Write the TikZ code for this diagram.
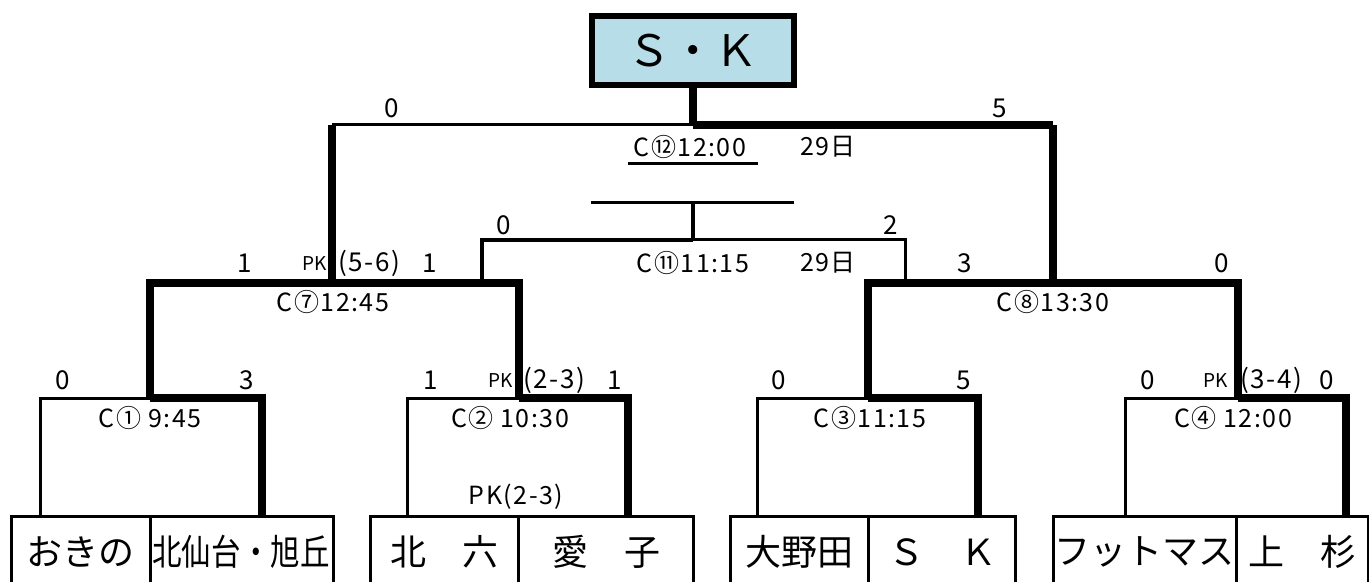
\documentclass[tikz,border=0pt]{standalone}
\usepackage{fontspec}
\setmainfont{Noto Sans CJK JP}
\newfontfamily\labelfont[LetterSpace=6]{Noto Sans CJK JP}
\definecolor{skblue}{RGB}{183,222,232}

\begin{document}
\begin{tikzpicture}[x=0.5pt, y=-0.5pt,
	lose/.style={line width=1.5pt},
	mid/.style={line width=2.2pt},
	win/.style={line width=3.6pt},
	score/.style={font=\labelfont\fontsize{13}{14}\selectfont, inner sep=0pt},
	game/.style={font=\labelfont\fontsize{12.5}{14}\selectfont, inner sep=0pt},
	pk/.style={font=\fontsize{9.5}{10}\selectfont, inner sep=0pt},
	team/.style={font=\fontsize{18}{20}\selectfont, inner sep=0pt}]

	\useasboundingbox (0,0) rectangle (1369,582);

	% champion
	\node[draw, fill=skblue, line width=2.6pt, minimum width=101pt, minimum height=34.5pt,
		font=\fontsize{21.7}{24}\selectfont] (champ) at (693,50.5) {Ｓ・Ｋ};
	\coordinate (final) at (693,125);
	\draw[win] (champ.south)--(final);

	% final C12
	\draw[lose] (332,125)--(final);
	\draw[win] (final)--(1053,125);
	\draw[win] (332,125)--(332,283);
	\draw[win] (1053,125)--(1053,283);
	\node[score] (s12a) at (392,108) {0};
	\node[score] (s12b) at (1000,108) {5};
	\node[game] (g12) at (690,147) {C⑫12:00};
	\node[game] (d12) at (828,147) {29日};
	\draw[lose] (628,164)--(758,164);

	% C11
	\draw[lose] (591,203)--(794,203);
	\coordinate (mid11) at (693,240);
	\draw[mid] (693,203)--(mid11);
	\draw[mid] (482,283)--(482,240)--(mid11);
	\draw[lose] (mid11)--(905,240)--(905,283);
	\node[score] (s11a) at (504,225) {0};
	\node[score] (s11b) at (891,225) {2};
	\node[game] (g11) at (693,263) {C⑪11:15};
	\node[game] (d11) at (828,263) {29日};

	% C7
	\draw[win] (150,398)--(150,283)--(519,283)--(519,398);
	\node[score] (s7a) at (245,263) {1};
	\node[pk] (pk7) at (315,264) {PK};
	\node[score] (p7) at (369,263) {(5-6)};
	\node[score] (s7b) at (430,263) {1};
	\node[game] (g7) at (333,302) {C⑦12:45};

	% C8
	\draw[win] (868,398)--(868,283)--(1238,283)--(1238,398);
	\node[score] (s8a) at (965,263) {3};
	\node[score] (s8b) at (1222,263) {0};
	\node[game] (g8) at (1053,302) {C⑧13:30};

	% C1
	\draw[lose] (40,516)--(40,398)--(150,398);
	\draw[win] (150,398)--(262,398)--(262,516);
	\node[score] (s1a) at (63,380) {0};
	\node[score] (s1b) at (247,380) {3};
	\node[game] (g1) at (150,418) {C① 9:45};

	% C2
	\draw[lose] (407,516)--(407,398)--(519,398);
	\draw[win] (519,398)--(628,398)--(628,516);
	\node[score] (s2a) at (431,380) {1};
	\node[pk] (pk2) at (501,381) {PK};
	\node[score] (p2) at (554,380) {(2-3)};
	\node[score] (s2b) at (615,380) {1};
	\node[game] (g2) at (510,418) {C② 10:30};
	\node[game] (pk2b) at (516,497) {PK(2-3)};

	% C3
	\draw[lose] (757,516)--(757,398)--(868,398);
	\draw[win] (868,398)--(978,398)--(978,516);
	\node[score] (s3a) at (779,380) {0};
	\node[score] (s3b) at (964,380) {5};
	\node[game] (g3) at (870,418) {C③11:15};

	% C4
	\draw[lose] (1125,516)--(1125,398)--(1238,398);
	\draw[win] (1238,398)--(1346,398)--(1346,516);
	\node[score] (s4a) at (1148,380) {0};
	\node[pk] (pk4) at (1216,381) {PK};
	\node[score] (p4) at (1271,380) {(3-4)};
	\node[score] (s4b) at (1327,380) {0};
	\node[game] (g4) at (1233,418) {C④ 12:00};

	% teams
	\draw[lose] (11,582)--(11,516)--(333,516)--(333,582) (150,516)--(150,582);
	\draw[lose] (370,582)--(370,516)--(693,516)--(693,582) (518,516)--(518,582);
	\draw[lose] (730,582)--(730,516)--(1015,516)--(1015,582) (868,516)--(868,582);
	\draw[lose] (1053,582)--(1053,516)--(1368,516)--(1368,582) (1236,516)--(1236,582);
	\node[team] (okino) at (80,552) {おきの};
	\node[team] (kitasendai) at (241,552) {\scalebox{0.82}[1]{北仙台・旭丘}};
	\node[team] (kitaroku) at (444,552) {北　六};
	\node[team] (aiko) at (606,552) {愛　子};
	\node[team] (onoda) at (799,552) {大野田};
	\node[team] (sk) at (942,552) {Ｓ　Ｋ};
	\node[team] (futtomasu) at (1144,552) {フットマス};
	\node[team] (uesugi) at (1302,552) {上　杉};

\end{tikzpicture}
\end{document}
